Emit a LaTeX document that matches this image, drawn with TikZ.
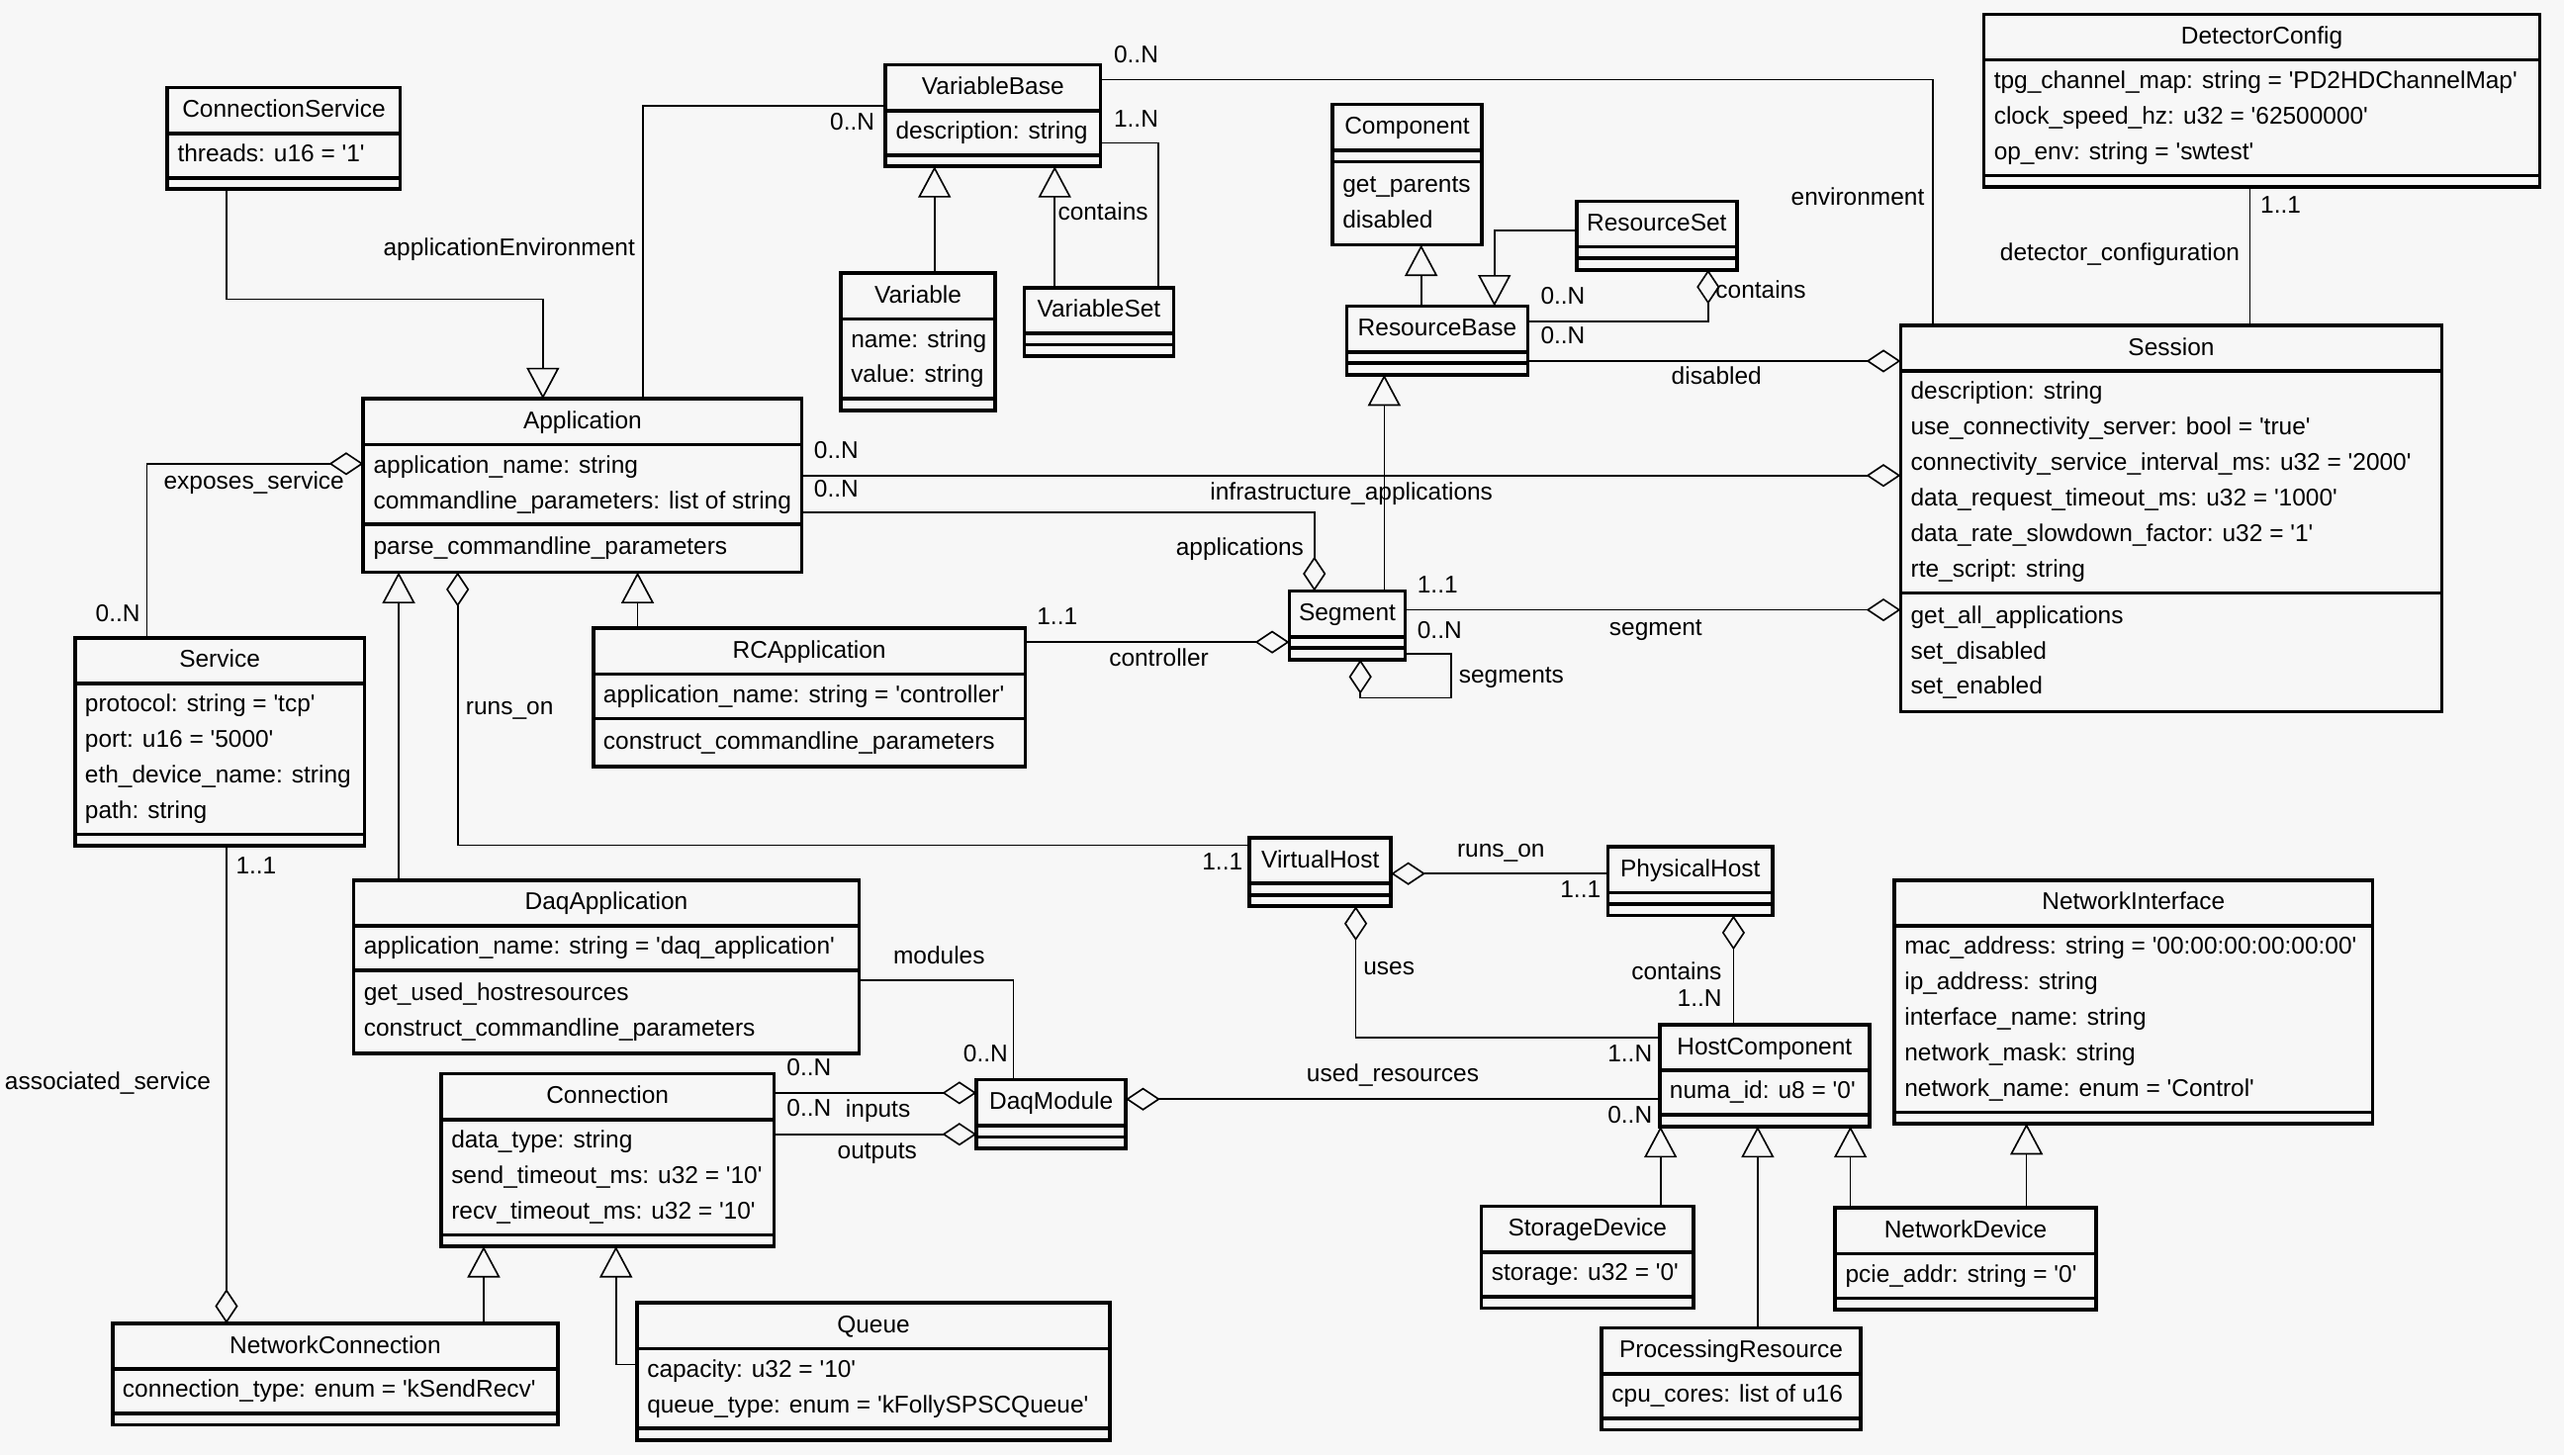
\documentclass[tikz,border=0pt]{standalone}
\usepackage{fontspec}
\setmainfont{Liberation Sans}[Ligatures=TeXOff]
\usetikzlibrary{arrows.meta}
\definecolor{bg}{RGB}{247,247,247}
\newcommand\fs{\fontsize{14.8}{17}\selectfont}
\tikzset{
 classbox/.style={draw, line width=2.2pt, inner sep=0, outer sep=0},
 sepline/.style={line width=2.2pt},
 txt/.style={inner sep=0, anchor=west, text height=10pt, text depth=2.5pt, font=\fs},
 ttl/.style={inner sep=0, anchor=center, text height=10pt, text depth=2.5pt, font=\fs},
 lbl/.style={inner sep=0, text height=10pt, text depth=2.5pt, font=\fs},
 assoc/.style={line width=1pt},
 gen/.style={assoc, -{Triangle[open, length=19pt, width=20pt]}},
 agg/.style={assoc, {Diamond[open, length=21pt, width=14pt]}-},
}
\newcommand\umlclass[9]{%
 \pgfmathsetmacro\hA{(#6==0) ? 7 : 5.5+21.7*#6}%
 \pgfmathsetmacro\hO{(#8==0) ? 7 : 7.5+21.7*#8}%
 \pgfmathsetmacro\yA{#3+28}%
 \pgfmathsetmacro\yO{\yA+\hA}%
 \pgfmathsetmacro\hH{28+\hA+\hO}%
 \node[classbox, minimum width=#4pt, minimum height=\hH pt, anchor=north west] (#1) at (#2,#3) {};
 \draw[sepline] (#2,\yA) -- ++(#4,0);
 \draw[sepline] (#2,\yO) -- ++(#4,0);
 \node[ttl] (#1-t) at (#2+#4/2,#3+14.5) {#5};
 \ifnum#6>0
   \foreach \s [count=\i] in {#7} {\node[txt] (#1-a\i) at (#2+6,\yA+13.6+21.7*\i-21.7) {\s};}
 \fi
 \ifnum#8>0
   \foreach \s [count=\i] in {#9} {\node[txt] (#1-o\i) at (#2+6,\yO+14.8+21.7*\i-21.7) {\s};}
 \fi
}
\begin{document}
\begin{tikzpicture}[x=1pt,y=-1pt]
\fill[bg] (0,0) rectangle (1568,890);
\useasboundingbox (0,0) rectangle (1568,890);

\umlclass{CS}{102.4}{53.5}{142.4}{ConnectionService}{1}{threads: u16 = '1'}{0}{}
\umlclass{VB}{541.6}{39.6}{131.3}{VariableBase}{1}{description: string}{0}{}
\umlclass{Var}{514.2}{167}{94.4}{Variable}{2}{name: string,value: string}{0}{}
\umlclass{VS}{626.4}{175.9}{91.3}{VariableSet}{0}{}{0}{}
\umlclass{Comp}{814.9}{63.9}{91.3}{Component}{0}{}{2}{get\_parents,disabled}
\umlclass{RS}{964.2}{123}{97.9}{ResourceSet}{0}{}{0}{}
\umlclass{RB}{823.6}{187.2}{110.7}{ResourceBase}{0}{}{0}{}
\umlclass{Seg}{788.5}{361.4}{70.8}{Segment}{0}{}{0}{}
\umlclass{Ses}{1162.3}{199}{331}{Session}{6}{description: string,use\_connectivity\_server: bool = 'true',connectivity\_service\_interval\_ms: u32 = '2000',data\_request\_timeout\_ms: u32 = '1000',data\_rate\_slowdown\_factor: u32 = '1',rte\_script: string}{3}{get\_all\_applications,set\_disabled,set\_enabled}
\umlclass{DC}{1213.2}{8.7}{340}{DetectorConfig}{3}{tpg\_channel\_map: string = 'PD2HDChannelMap',clock\_speed\_hz: u32 = '62500000',op\_env: string = 'swtest'}{0}{}
\umlclass{App}{222.2}{243.9}{268.1}{Application}{2}{application\_name: string,commandline\_parameters: list of string}{1}{parse\_commandline\_parameters}
\umlclass{Svc}{45.8}{390}{177.1}{Service}{4}{protocol: string = 'tcp',port: u16 = '5000',eth\_device\_name: string,path: string}{0}{}
\umlclass{RCA}{362.8}{384.3}{264.2}{RCApplication}{1}{application\_name: string = 'controller'}{1}{construct\_commandline\_parameters}
\umlclass{DA}{216.3}{538.2}{309}{DaqApplication}{1}{application\_name: string = 'daq\_application'}{2}{get\_used\_hostresources,construct\_commandline\_parameters}
\umlclass{Con}{269.8}{656.7}{203.5}{Connection}{3}{data\_type: string,send\_timeout\_ms: u32 = '10',recv\_timeout\_ms: u32 = '10'}{0}{}
\umlclass{NC}{68.8}{809.3}{272.5}{NetworkConnection}{1}{connection\_type: enum = 'kSendRecv'}{0}{}
\umlclass{Q}{389.6}{796.8}{289.2}{Queue}{2}{capacity: u32 = '10',queue\_type: enum = 'kFollySPSCQueue'}{0}{}
\umlclass{DM}{597.2}{660.3}{91.3}{DaqModule}{0}{}{0}{}
\umlclass{VH}{764.2}{512.3}{86.5}{VirtualHost}{0}{}{0}{}
\umlclass{PH}{983.3}{517.9}{100.8}{PhysicalHost}{0}{}{0}{}
\umlclass{HC}{1014.9}{626.7}{128.4}{HostComponent}{1}{numa\_id: u8 = '0'}{0}{}
\umlclass{SD}{905.9}{737.8}{129.8}{StorageDevice}{1}{storage: u32 = '0'}{0}{}
\umlclass{PR}{979.5}{812.2}{158.3}{ProcessingResource}{1}{cpu\_cores: list of u16}{0}{}
\umlclass{ND}{1122.3}{738.7}{159.4}{NetworkDevice}{1}{pcie\_addr: string = '0'}{0}{}
\umlclass{NI}{1158.5}{538.2}{292.5}{NetworkInterface}{5}{mac\_address: string = '00:00:00:00:00:00',ip\_address: string,interface\_name: string,network\_mask: string,network\_name: enum = 'Control'}{0}{}

% ConnectionService -> Application
\draw[gen] (CS.south -| 138.5,0) -- ++(0,67.2) -| (App.north -| 332,0);
% applicationEnvironment
\draw[assoc] (App.north -| 393.4,0) |- (VB.west |- 0,64.8);
\node[lbl, anchor=east] (lAE) at (388.5,152.5) {applicationEnvironment};
\node[lbl, anchor=east] (mAE) at (535,75.8) {0..N};
% environment
\draw[assoc] (VB.east |- 0,48.6) -| (Ses.north -| 1182.2,0);
\node[lbl, anchor=west] (mEnv) at (681,34.7) {0..N};
\node[lbl, anchor=east] (lEnv) at (1177,121.5) {environment};
% VariableSet contains
\draw[assoc] (VB.east |- 0,87.4) -| (VS.north -| 708.3,0);
\node[lbl, anchor=west] (mCont1) at (681,73.8) {1..N};
\node[lbl, anchor=west] (lCont1) at (646.8,130.8) {contains};
% generalizations top
\draw[gen] (Var.north -| 571.5,0) -- (VB.south -| 571.5,0);
\draw[gen] (VS.north -| 645,0) -- (VB.south -| 645,0);
\draw[gen] (RB.north -| 869.1,0) -- (Comp.south -| 869.1,0);
\draw[gen] (RS.west |- 0,140.9) -| (RB.north -| 913.9,0);
% ResourceSet contains
\draw[agg] (RS.south -| 1044.6,0) |- (RB.east |- 0,196.8);
\node[lbl, anchor=west] (mCont2) at (942,182.3) {0..N};
\node[lbl, anchor=west] (lCont2) at (1049,178.5) {contains};
% disabled
\draw[agg] (Ses.west |- 0,220.8) -- (RB.east |- 0,220.8);
\node[lbl, anchor=west] (mDis) at (942,206.3) {0..N};
\node[lbl, anchor=east] (lDis) at (1077.5,231.5) {disabled};
% infrastructure_applications
\draw[agg] (Ses.west |- 0,290.8) -- (App.east |- 0,290.8);
\node[lbl, anchor=west] (mInf) at (497.6,276.9) {0..N};
\node[lbl, anchor=west] (lInf) at (739.9,302.1) {infrastructure\_applications};
% applications
\draw[agg] (Seg.north -| 803.8,0) |- (App.east |- 0,313.4);
\node[lbl, anchor=west] (mApps) at (497.6,300.1) {0..N};
\node[lbl, anchor=east] (lApps) at (797.5,336.2) {applications};
% segment
\draw[agg] (Ses.west |- 0,373) -- (Seg.east |- 0,373);
\node[lbl, anchor=west] (mSeg) at (866.6,358.8) {1..1};
\node[lbl, anchor=west] (lSeg) at (984,384.8) {segment};
% segments (self)
\draw[agg] (Seg.south -| 831.9,0) |- (887.5,426.8) |- (Seg.east |- 0,400);
\node[lbl, anchor=west] (mSegs) at (866.6,386.9) {0..N};
\node[lbl, anchor=west] (lSegs) at (892,413.8) {segments};
% controller
\draw[agg] (Seg.west |- 0,392.7) -- (RCA.east |- 0,392.7);
\node[lbl, anchor=west] (mCtl) at (634,378.2) {1..1};
\node[lbl, anchor=west] (lCtl) at (678.1,403.6) {controller};
% generalizations middle
\draw[gen] (Seg.north -| 846.5,0) -- (RB.south -| 846.5,0);
\draw[gen] (RCA.north -| 389.9,0) -- (App.south -| 389.9,0);
\draw[gen] (DA.north -| 243.8,0) -- (App.south -| 243.8,0);
% runs_on (Application -> VirtualHost)
\draw[agg] (App.south -| 279.9,0) |- (VH.west |- 0,517);
\node[lbl, anchor=west] (mRun1) at (735,528.4) {1..1};
\node[lbl, anchor=west] (lRun1) at (284.7,433.2) {runs\_on};
% exposes_service
\draw[agg] (App.west |- 0,283.6) -| (Svc.north -| 89.9,0);
\node[lbl, anchor=west] (mExp) at (58.3,376.2) {0..N};
\node[lbl, anchor=west] (lExp) at (100,295.1) {exposes\_service};
% associated_service
\draw[agg] (NC.north -| 138.5,0) -- (Svc.south -| 138.5,0);
\node[lbl, anchor=west] (mAss) at (144.1,530.7) {1..1};
\node[lbl, anchor=west] (lAss) at (2.8,662.7) {associated\_service};
% Connection generalizations
\draw[gen] (NC.north -| 295.8,0) -- (Con.south -| 295.8,0);
\draw[gen] (Q.west |- 0,834.6) -| (Con.south -| 376.7,0);
% inputs / outputs
\draw[agg] (DM.west |- 0,668.4) -- (Con.east |- 0,668.4);
\node[lbl, anchor=west] (mIn) at (481,654.4) {0..N};
\node[lbl, anchor=west] (lIn) at (517,679.7) {inputs};
\draw[agg] (DM.west |- 0,693.7) -- (Con.east |- 0,693.7);
\node[lbl, anchor=west] (mOut) at (481,679.1) {0..N};
\node[lbl, anchor=west] (lOut) at (512,705) {outputs};
% modules
\draw[assoc] (DA.east |- 0,599.3) -| (DM.north -| 619.8,0);
\node[lbl, anchor=west] (mMod) at (589,645.4) {0..N};
\node[lbl, anchor=west] (lMod) at (546.1,585.9) {modules};
% used_resources
\draw[agg] (DM.east |- 0,672.2) -- (HC.west |- 0,672.2);
\node[lbl, anchor=west] (mUsed) at (983,683.3) {0..N};
\node[lbl, anchor=west] (lUsed) at (798.9,657.9) {used\_resources};
% uses
\draw[agg] (VH.south -| 829.1,0) |- (HC.west |- 0,634.4);
\node[lbl, anchor=west] (mUses) at (983,645.4) {1..N};
\node[lbl, anchor=west] (lUses) at (833.6,592.7) {uses};
% runs_on (VirtualHost -> PhysicalHost)
\draw[agg] (VH.east |- 0,534.3) -- (PH.west |- 0,534.3);
\node[lbl, anchor=west] (mRun2) at (954,545) {1..1};
\node[lbl, anchor=west] (lRun2) at (890.9,520.3) {runs\_on};
% PhysicalHost contains
\draw[agg] (PH.south -| 1060.1,0) -- (HC.north -| 1060.1,0);
\node[lbl, anchor=west] (lCont3) at (997.5,595.4) {contains};
\node[lbl, anchor=east] (mCont3) at (1053.1,611.8) {1..N};
% HostComponent / NetworkInterface generalizations
\draw[gen] (SD.north -| 1015.5,0) -- (HC.south -| 1015.5,0);
\draw[gen] (PR.north -| 1074.9,0) -- (HC.south -| 1074.9,0);
\draw[gen] (ND.north -| 1131.6,0) -- (HC.south -| 1131.6,0);
\draw[gen] (ND.north -| 1239.3,0) -- (NI.south -| 1239.3,0);
% detector_configuration
\draw[assoc] (DC.south -| 1376,0) -- (Ses.north -| 1376,0);
\node[lbl, anchor=west] (mDet) at (1382.2,126.4) {1..1};
\node[lbl, anchor=east] (lDet) at (1369.8,155.7) {detector\_configuration};
\end{tikzpicture}
\end{document}
